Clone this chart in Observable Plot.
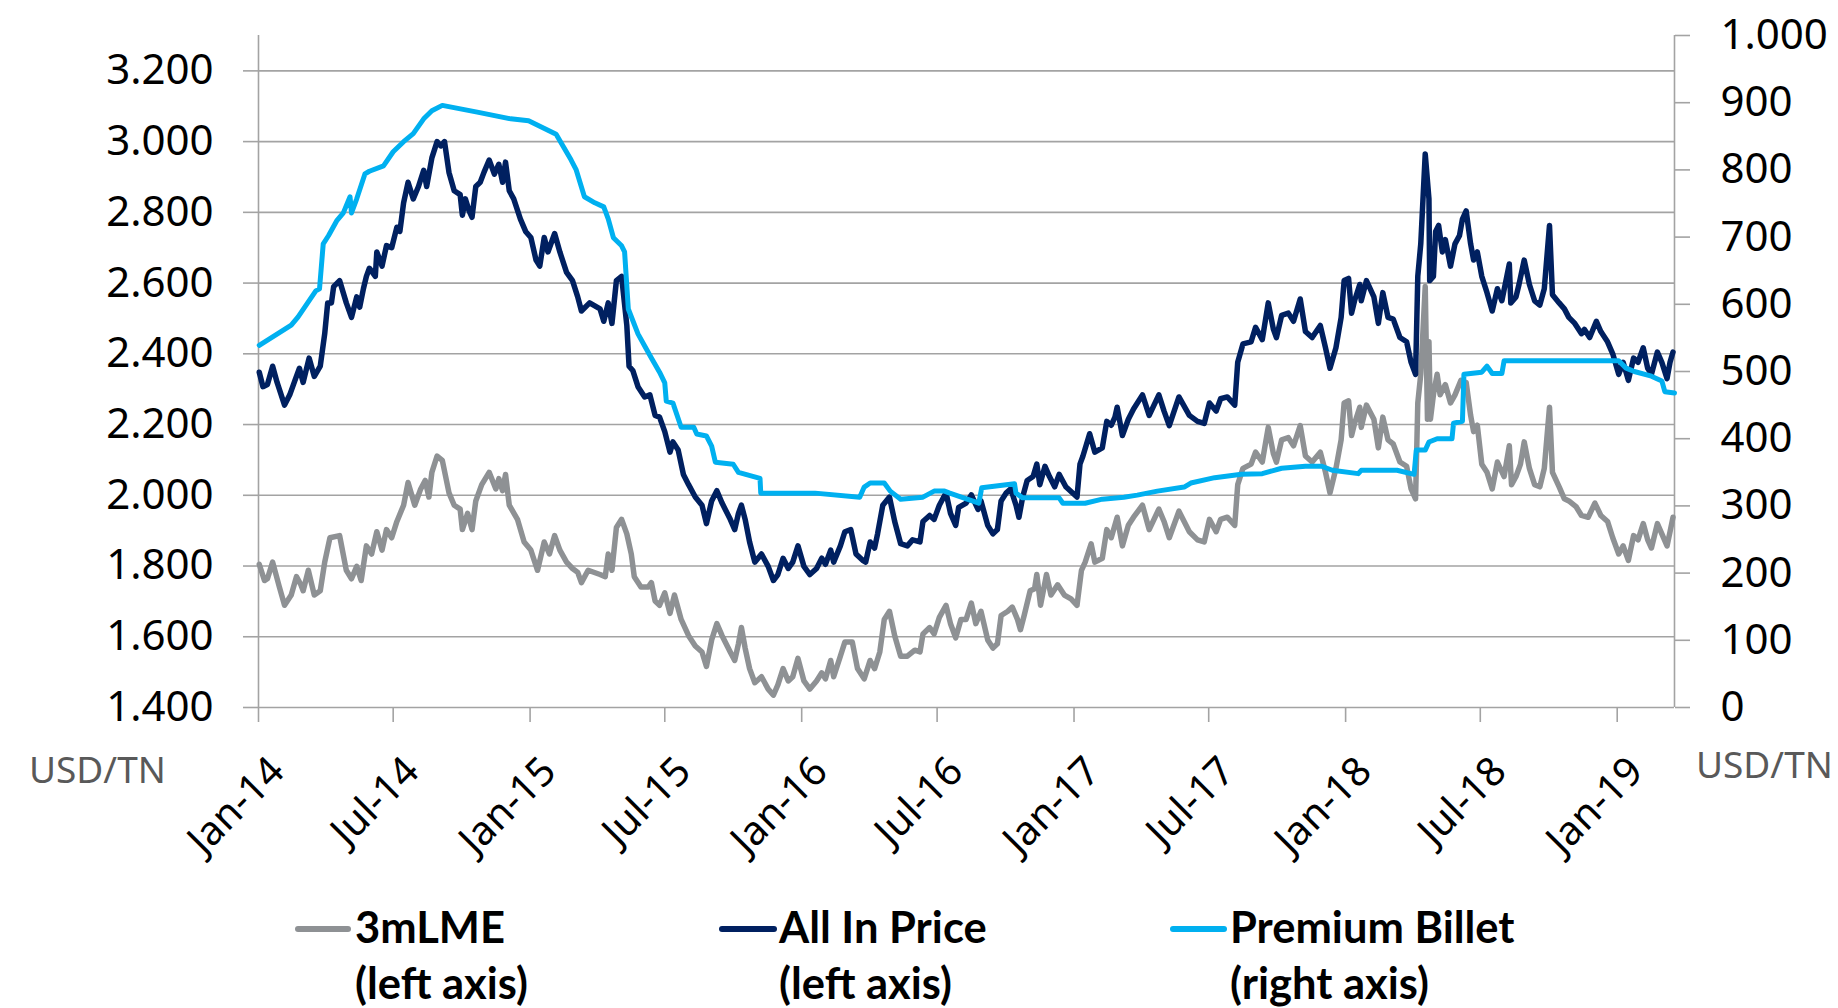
<!DOCTYPE html>
<html><head><meta charset="utf-8">
<script src="https://cdn.jsdelivr.net/npm/d3@7"></script>
<script src="https://cdn.jsdelivr.net/npm/@observablehq/plot@0.6"></script>
<style>
html,body{margin:0;padding:0;background:#fff;}
#wrap{position:relative;width:1838px;height:1008px;overflow:hidden;background:#fff;}
#chart{position:absolute;left:0;top:0;}
.unit{position:absolute;font-family:'Noto Sans',sans-serif;font-size:37px;color:#595959;line-height:37px;white-space:nowrap;}
.leg{position:absolute;font-family:Lato,sans-serif;font-weight:700;font-size:43.5px;line-height:56px;color:#000;white-space:nowrap;}
.sw{position:absolute;height:6px;border-radius:3px;}
</style></head><body><div id="wrap"><div id="chart"></div></div>
<script>
// ---------- data ----------
const seriesNames = ["3mLME", "All In Price", "Premium Billet"];
const seriesAxis = ["(left axis)", "(left axis)", "(right axis)"];
const seriesColors = ["#8e9194", "#002060", "#00b0f0"];

const leftTicks = [1400, 1600, 1800, 2000, 2200, 2400, 2600, 2800, 3000, 3200];
const rightTicks = [0, 100, 200, 300, 400, 500, 600, 700, 800, 900, 1000];
const xTickDates = ["2014-01-01","2014-07-01","2015-01-01","2015-07-01","2016-01-01","2016-07-01","2017-01-01","2017-07-01","2018-01-01","2018-07-01","2019-01-01"];
const xTickLabels = ["Jan-14","Jul-14","Jan-15","Jul-15","Jan-16","Jul-16","Jan-17","Jul-17","Jan-18","Jul-18","Jan-19"];
const unitLabel = "USD/TN";

const lme3m = [
["2014-01-02",1805],["2014-01-09",1759],["2014-01-13",1764],["2014-01-20",1811],["2014-01-29",1741],["2014-02-05",1689],["2014-02-14",1718],["2014-02-21",1770],["2014-02-27",1747],["2014-03-02",1730],["2014-03-09",1788],["2014-03-17",1718],["2014-03-25",1730],["2014-03-31",1811],["2014-04-07",1880],["2014-04-20",1886],["2014-04-29",1788],["2014-05-06",1764],["2014-05-13",1799],["2014-05-19",1759],["2014-05-26",1857],["2014-06-02",1834],["2014-06-09",1897],["2014-06-16",1845],["2014-06-22",1903],["2014-06-29",1880],["2014-07-06",1926],["2014-07-15",1972],["2014-07-21",2036],["2014-07-30",1972],["2014-08-07",2018],["2014-08-13",2042],["2014-08-18",1995],["2014-08-22",2065],["2014-08-29",2111],["2014-09-05",2099],["2014-09-14",2007],["2014-09-21",1972],["2014-09-29",1961],["2014-10-02",1903],["2014-10-09",1949],["2014-10-15",1903],["2014-10-20",1984],["2014-10-28",2030],["2014-11-07",2065],["2014-11-16",2018],["2014-11-20",2047],["2014-11-25",2013],["2014-11-29",2059],["2014-12-04",1972],["2014-12-15",1932],["2014-12-24",1868],
["2015-01-02",1845],["2015-01-11",1788],["2015-01-20",1868],["2015-01-27",1834],["2015-02-03",1886],["2015-02-10",1845],["2015-02-19",1811],["2015-02-27",1793],["2015-03-06",1782],["2015-03-11",1753],["2015-03-20",1788],["2015-04-05",1776],["2015-04-12",1770],["2015-04-16",1834],["2015-04-21",1788],["2015-04-27",1909],["2015-05-04",1932],["2015-05-11",1891],["2015-05-17",1834],["2015-05-21",1770],["2015-05-30",1741],["2015-06-09",1741],["2015-06-13",1753],["2015-06-18",1701],["2015-06-24",1689],["2015-07-01",1724],["2015-07-08",1666],["2015-07-14",1718],["2015-07-23",1649],["2015-08-02",1603],["2015-08-11",1574],["2015-08-20",1557],["2015-08-26",1516],["2015-09-02",1591],["2015-09-09",1637],["2015-09-16",1603],["2015-09-27",1557],["2015-10-03",1533],["2015-10-08",1580],["2015-10-12",1626],["2015-10-17",1568],["2015-10-23",1510],["2015-10-30",1470],["2015-11-08",1487],["2015-11-17",1452],["2015-11-24",1435],["2015-11-30",1464],["2015-12-07",1510],["2015-12-14",1475],["2015-12-20",1487],["2015-12-27",1539],
["2016-01-04",1475],["2016-01-12",1452],["2016-01-21",1475],["2016-01-28",1498],["2016-02-02",1481],["2016-02-09",1533],["2016-02-13",1487],["2016-02-22",1545],["2016-02-28",1585],["2016-03-09",1585],["2016-03-16",1510],["2016-03-25",1481],["2016-04-02",1533],["2016-04-08",1510],["2016-04-15",1557],["2016-04-21",1649],["2016-04-28",1672],["2016-05-05",1603],["2016-05-13",1545],["2016-05-22",1545],["2016-06-01",1562],["2016-06-08",1557],["2016-06-12",1608],["2016-06-21",1626],["2016-06-27",1608],["2016-07-04",1655],["2016-07-13",1689],["2016-07-19",1637],["2016-07-26",1597],["2016-08-02",1649],["2016-08-09",1649],["2016-08-16",1695],["2016-08-22",1637],["2016-08-29",1672],["2016-09-07",1591],["2016-09-14",1568],["2016-09-20",1580],["2016-09-25",1660],["2016-10-04",1672],["2016-10-10",1684],["2016-10-17",1649],["2016-10-21",1620],["2016-10-26",1660],["2016-11-03",1730],["2016-11-09",1736],["2016-11-12",1776],["2016-11-17",1689],["2016-11-25",1776],["2016-12-01",1718],["2016-12-10",1747],["2016-12-19",1718],["2016-12-28",1707],
["2017-01-05",1689],["2017-01-11",1788],["2017-01-16",1811],["2017-01-24",1863],["2017-01-29",1811],["2017-02-08",1822],["2017-02-14",1903],["2017-02-20",1880],["2017-02-28",1938],["2017-03-07",1857],["2017-03-15",1915],["2017-03-22",1938],["2017-04-03",1972],["2017-04-12",1903],["2017-04-25",1961],["2017-05-02",1926],["2017-05-09",1880],["2017-05-22",1955],["2017-06-05",1897],["2017-06-16",1874],["2017-06-25",1868],["2017-07-02",1932],["2017-07-11",1897],["2017-07-17",1932],["2017-07-26",1938],["2017-08-05",1915],["2017-08-09",2030],["2017-08-16",2076],["2017-08-27",2088],["2017-09-02",2122],["2017-09-11",2094],["2017-09-19",2192],["2017-09-26",2117],["2017-09-30",2094],["2017-10-07",2157],["2017-10-16",2163],["2017-10-23",2140],["2017-11-01",2197],["2017-11-08",2111],["2017-11-17",2094],["2017-11-28",2122],["2017-12-05",2065],["2017-12-11",2007],["2017-12-19",2076],["2017-12-26",2157],["2017-12-30",2261],
["2018-01-05",2267],["2018-01-09",2169],["2018-01-13",2203],["2018-01-20",2249],["2018-01-22",2192],["2018-01-29",2255],["2018-02-08",2215],["2018-02-14",2134],["2018-02-20",2221],["2018-02-27",2157],["2018-03-06",2145],["2018-03-15",2094],["2018-03-24",2082],["2018-03-30",2018],["2018-04-05",1990],["2018-04-08",2261],["2018-04-12",2342],["2018-04-18",2590],["2018-04-21",2215],["2018-04-23",2434],["2018-04-25",2215],["2018-04-29",2284],["2018-05-04",2342],["2018-05-08",2284],["2018-05-15",2313],["2018-05-22",2261],["2018-05-28",2284],["2018-06-05",2325],["2018-06-12",2319],["2018-06-18",2226],["2018-06-22",2180],["2018-06-27",2198],["2018-07-03",2088],["2018-07-10",2065],["2018-07-17",2018],["2018-07-24",2094],["2018-08-02",2053],["2018-08-09",2140],["2018-08-12",2030],["2018-08-18",2053],["2018-08-24",2088],["2018-08-29",2151],["2018-09-05",2076],["2018-09-12",2030],["2018-09-19",2024],["2018-09-25",2076],["2018-10-02",2249],["2018-10-06",2065],["2018-10-15",2024],["2018-10-22",1990],["2018-10-28",1984],["2018-11-07",1967],["2018-11-14",1943],["2018-11-23",1938],["2018-12-02",1978],["2018-12-10",1943],["2018-12-19",1926],["2018-12-26",1880],
["2019-01-03",1834],["2019-01-09",1857],["2019-01-16",1816],["2019-01-23",1886],["2019-01-29",1874],["2019-02-05",1920],["2019-02-11",1874],["2019-02-16",1851],["2019-02-24",1920],["2019-03-02",1891],["2019-03-09",1857],["2019-03-13",1897],["2019-03-17",1938]
];

const allInPrice = [
["2014-01-02",2348],["2014-01-07",2307],["2014-01-13",2313],["2014-01-20",2365],["2014-01-26",2319],["2014-02-05",2255],["2014-02-12",2284],["2014-02-19",2325],["2014-02-25",2359],["2014-03-02",2319],["2014-03-10",2388],["2014-03-17",2336],["2014-03-25",2365],["2014-03-31",2457],["2014-04-04",2544],["2014-04-09",2544],["2014-04-12",2590],["2014-04-20",2607],["2014-04-29",2544],["2014-05-06",2503],["2014-05-13",2561],["2014-05-17",2532],["2014-05-22",2584],["2014-05-26",2619],["2014-05-30",2642],["2014-06-07",2619],["2014-06-09",2688],["2014-06-16",2648],["2014-06-22",2706],["2014-06-29",2700],["2014-07-06",2758],["2014-07-10",2746],["2014-07-15",2827],["2014-07-21",2885],["2014-07-28",2838],["2014-08-04",2873],["2014-08-11",2919],["2014-08-15",2873],["2014-08-22",2954],["2014-08-29",3000],["2014-09-03",2988],["2014-09-08",3000],["2014-09-14",2913],["2014-09-21",2861],["2014-09-29",2850],["2014-10-02",2792],["2014-10-06",2838],["2014-10-11",2804],["2014-10-15",2786],["2014-10-20",2873],["2014-10-26",2885],["2014-10-31",2913],["2014-11-07",2948],["2014-11-14",2908],["2014-11-20",2936],["2014-11-25",2885],["2014-11-29",2942],["2014-12-04",2861],["2014-12-10",2838],["2014-12-19",2781],["2014-12-26",2746],
["2015-01-02",2729],["2015-01-09",2665],["2015-01-14",2648],["2015-01-20",2729],["2015-01-25",2688],["2015-02-03",2740],["2015-02-10",2688],["2015-02-19",2630],["2015-02-27",2607],["2015-03-06",2561],["2015-03-11",2521],["2015-03-22",2544],["2015-04-05",2527],["2015-04-10",2492],["2015-04-16",2544],["2015-04-21",2486],["2015-04-27",2607],["2015-05-04",2619],["2015-05-11",2480],["2015-05-14",2365],["2015-05-19",2353],["2015-05-26",2307],["2015-06-04",2278],["2015-06-11",2284],["2015-06-18",2226],["2015-06-24",2221],["2015-07-01",2180],["2015-07-08",2122],["2015-07-12",2151],["2015-07-19",2128],["2015-07-26",2059],["2015-08-02",2030],["2015-08-11",1995],["2015-08-20",1972],["2015-08-26",1920],["2015-09-02",1984],["2015-09-09",2013],["2015-09-16",1978],["2015-09-27",1932],["2015-10-03",1903],["2015-10-08",1949],["2015-10-12",1972],["2015-10-17",1932],["2015-10-23",1868],["2015-10-30",1811],["2015-11-08",1834],["2015-11-17",1799],["2015-11-24",1759],["2015-11-30",1776],["2015-12-07",1822],["2015-12-14",1793],["2015-12-20",1811],["2015-12-27",1857],
["2016-01-04",1799],["2016-01-12",1776],["2016-01-21",1793],["2016-01-28",1822],["2016-02-02",1805],["2016-02-09",1845],["2016-02-13",1811],["2016-02-22",1857],["2016-02-28",1897],["2016-03-07",1903],["2016-03-14",1834],["2016-03-23",1816],["2016-03-27",1811],["2016-04-02",1868],["2016-04-08",1851],["2016-04-12",1891],["2016-04-19",1972],["2016-04-28",1995],["2016-05-05",1926],["2016-05-13",1863],["2016-05-22",1857],["2016-05-29",1874],["2016-06-08",1868],["2016-06-12",1926],["2016-06-21",1943],["2016-06-27",1932],["2016-07-04",1972],["2016-07-13",2007],["2016-07-19",1949],["2016-07-26",1915],["2016-07-30",1966],["2016-08-09",1978],["2016-08-16",2001],["2016-08-25",1960],["2016-08-29",1984],["2016-09-07",1915],["2016-09-14",1891],["2016-09-20",1903],["2016-09-25",1984],["2016-10-02",2007],["2016-10-08",2018],["2016-10-15",1972],["2016-10-19",1938],["2016-10-24",1995],["2016-10-30",2042],["2016-11-07",2053],["2016-11-12",2088],["2016-11-16",2030],["2016-11-23",2082],["2016-11-29",2053],["2016-12-06",2024],["2016-12-12",2059],["2016-12-21",2024],
["2017-01-05",1995],["2017-01-09",2088],["2017-01-13",2111],["2017-01-22",2174],["2017-01-29",2122],["2017-02-08",2134],["2017-02-14",2209],["2017-02-20",2198],["2017-02-25",2221],["2017-02-28",2249],["2017-03-07",2169],["2017-03-15",2215],["2017-03-22",2244],["2017-04-03",2284],["2017-04-12",2226],["2017-04-25",2284],["2017-05-02",2238],["2017-05-09",2197],["2017-05-22",2278],["2017-06-05",2226],["2017-06-16",2209],["2017-06-25",2203],["2017-07-02",2261],["2017-07-11",2238],["2017-07-17",2273],["2017-07-26",2278],["2017-08-05",2255],["2017-08-09",2376],["2017-08-16",2428],["2017-08-27",2434],["2017-09-02",2475],["2017-09-11",2440],["2017-09-19",2544],["2017-09-26",2469],["2017-09-30",2446],["2017-10-07",2509],["2017-10-16",2515],["2017-10-23",2492],["2017-11-01",2555],["2017-11-08",2463],["2017-11-17",2446],["2017-11-28",2480],["2017-12-05",2417],["2017-12-11",2359],["2017-12-19",2417],["2017-12-26",2503],["2017-12-30",2607],
["2018-01-05",2613],["2018-01-09",2515],["2018-01-13",2550],["2018-01-20",2596],["2018-01-22",2550],["2018-01-29",2607],["2018-02-08",2561],["2018-02-14",2486],["2018-02-20",2573],["2018-02-27",2503],["2018-03-06",2498],["2018-03-15",2446],["2018-03-24",2434],["2018-03-30",2376],["2018-04-05",2342],["2018-04-08",2619],["2018-04-12",2711],["2018-04-18",2965],["2018-04-23",2838],["2018-04-24",2607],["2018-04-29",2619],["2018-05-02",2746],["2018-05-06",2763],["2018-05-11",2688],["2018-05-15",2723],["2018-05-22",2648],["2018-05-28",2711],["2018-06-03",2734],["2018-06-07",2781],["2018-06-12",2804],["2018-06-18",2711],["2018-06-22",2665],["2018-06-27",2688],["2018-07-03",2619],["2018-07-10",2573],["2018-07-17",2521],["2018-07-24",2584],["2018-07-30",2550],["2018-08-09",2654],["2018-08-11",2544],["2018-08-18",2561],["2018-08-22",2596],["2018-08-29",2665],["2018-09-05",2596],["2018-09-12",2550],["2018-09-19",2538],["2018-09-25",2584],["2018-10-02",2763],["2018-10-06",2567],["2018-10-15",2544],["2018-10-22",2527],["2018-10-28",2503],["2018-11-05",2486],["2018-11-14",2457],["2018-11-18",2469],["2018-11-25",2446],["2018-12-04",2492],["2018-12-10",2463],["2018-12-19",2434],["2018-12-26",2400],
["2019-01-03",2342],["2019-01-09",2376],["2019-01-16",2325],["2019-01-23",2388],["2019-01-29",2376],["2019-02-05",2417],["2019-02-11",2359],["2019-02-16",2342],["2019-02-24",2405],["2019-03-02",2376],["2019-03-09",2330],["2019-03-13",2376],["2019-03-17",2405]
];

const premiumBillet = [
["2014-01-02",539],["2014-02-14",569],["2014-02-23",581],["2014-03-19",620],["2014-03-24",623],["2014-03-29",690],["2014-04-05",702],["2014-04-16",724],["2014-04-25",736],["2014-05-04",760],["2014-05-06",736],["2014-05-13",757],["2014-05-24",794],["2014-05-30",798],["2014-06-18",806],["2014-07-01",827],["2014-07-15",842],["2014-07-28",854],["2014-08-11",876],["2014-08-22",888],["2014-09-05",896],["2014-10-22",886],["2014-12-06",876],["2014-12-30",873],
["2015-02-05",853],["2015-02-14",836],["2015-02-25",815],["2015-03-04",800],["2015-03-15",760],["2015-03-29",751],["2015-04-10",745],["2015-04-16",727],["2015-04-23",699],["2015-05-04",687],["2015-05-08",678],["2015-05-13",593],["2015-05-26",556],["2015-06-04",538],["2015-06-13",520],["2015-06-24",499],["2015-07-01",483],["2015-07-03",456],["2015-07-12",453],["2015-07-23",417],["2015-08-09",417],["2015-08-13",407],["2015-08-26",404],["2015-09-02",389],["2015-09-07",365],["2015-10-01",362],["2015-10-08",350],["2015-11-06",341],["2015-11-07",319],
["2016-01-19",319],["2016-03-19",313],["2016-03-25",328],["2016-04-02",334],["2016-04-21",334],["2016-04-29",322],["2016-05-13",310],["2016-06-12",313],["2016-06-27",322],["2016-07-11",322],["2016-07-18",319],["2016-08-26",304],["2016-08-30",327],["2016-10-13",333],["2016-10-15",319],["2016-10-24",312],["2016-12-12",312],["2016-12-17",304],
["2017-01-16",304],["2017-02-08",310],["2017-03-09",313],["2017-03-27",316],["2017-04-23",322],["2017-05-29",328],["2017-06-07",334],["2017-07-09",342],["2017-08-14",347],["2017-09-11",348],["2017-10-07",356],["2017-11-08",359],["2017-11-30",359],["2017-12-14",353],
["2018-01-18",348],["2018-01-22",353],["2018-03-11",353],["2018-04-03",347],["2018-04-06",383],["2018-04-18",383],["2018-04-23",395],["2018-05-04",400],["2018-05-24",400],["2018-05-26",423],["2018-06-07",426],["2018-06-09",496],["2018-07-03",499],["2018-07-10",508],["2018-07-17",497],["2018-07-30",497],["2018-08-02",516],
["2019-01-03",516],["2019-01-13",505],["2019-01-24",500],["2019-02-16",493],["2019-03-02",486],["2019-03-06",470],["2019-03-19",468]
];

// ---------- chart ----------
const xDomain = [new Date("2014-01-01"), new Date("2019-03-19")];
const leftDomain = [1400, 3300];
const rightDomain = [0, 1000];
// map right-axis values onto the left scale
const k = (leftDomain[1] - leftDomain[0]) / (rightDomain[1] - rightDomain[0]);
const r2l = r => leftDomain[0] + (r - rightDomain[0]) * k;
const l2r = v => rightDomain[0] + (v - leftDomain[0]) / k;
const fmt = v => d3.format(",")(Math.round(v)).replace(/,/g, ".");

const gridColor = "#a3a3a3";
const parse = s => new Date(s);

const chart = Plot.plot({
  width: 1838,
  height: 880,
  marginLeft: 258,
  marginRight: 164,
  marginTop: 35,
  marginBottom: 173,
  x: {type: "utc", domain: xDomain, axis: null},
  y: {domain: leftDomain, axis: null},
  style: {fontFamily: "'Noto Sans', sans-serif", background: "white", overflow: "visible"},
  marks: [
    Plot.gridY(leftTicks, {stroke: gridColor, strokeOpacity: 1, strokeWidth: 1.6}),
    Plot.ruleX(xDomain, {stroke: gridColor, strokeWidth: 1.6}),
    Plot.axisX(xTickDates.map(parse), {tickSize: 15, tickFormat: () => "", stroke: gridColor, strokeWidth: 1.6, label: null}),
    Plot.text(xTickDates.map(parse), {
      x: d => d, frameAnchor: "bottom",
      text: (d, i) => xTickLabels[i],
      rotate: -45, textAnchor: "end", lineAnchor: "middle",
      dx: 19, dy: 57, fontSize: 40, fill: "#000"
    }),
    Plot.axisY(leftTicks, {anchor: "left", tickSize: 15, tickPadding: 30, tickFormat: fmt, fontSize: 42, color: "#000", stroke: gridColor, strokeWidth: 1.6, label: null}),
    Plot.axisY(rightTicks.map(r2l), {anchor: "right", tickSize: 15, tickPadding: 31, tickFormat: v => fmt(l2r(v)), fontSize: 42, color: "#000", stroke: gridColor, strokeWidth: 1.6, label: null}),
    Plot.line(lme3m, {x: d => parse(d[0]), y: d => d[1], stroke: seriesColors[0], strokeWidth: 5.5}),
    Plot.line(allInPrice, {x: d => parse(d[0]), y: d => d[1], stroke: seriesColors[1], strokeWidth: 5.5}),
    Plot.line(premiumBillet, {x: d => parse(d[0]), y: d => r2l(d[1]), stroke: seriesColors[2], strokeWidth: 5})
  ]
});
document.getElementById("chart").appendChild(chart);

// unit labels
const wrap = document.getElementById("wrap");
function addDiv(cls, html, left, top, extra) {
  const el = document.createElement("div");
  el.className = cls;
  el.innerHTML = html;
  el.style.left = left + "px";
  el.style.top = top + "px";
  if (extra) Object.assign(el.style, extra);
  wrap.appendChild(el);
  return el;
}
addDiv("unit", unitLabel, 29, 750);
addDiv("unit", unitLabel, 1696, 745);

// legend
const legSwatchX = [295, 719, 1170];
const legSwatchW = [56, 58, 57];
const legTextX = [355, 779, 1230];
seriesNames.forEach((name, i) => {
  addDiv("sw", "", legSwatchX[i], 926, {width: legSwatchW[i] + "px", background: seriesColors[i]});
  addDiv("leg", name + "<br>" + seriesAxis[i], legTextX[i], 898);
});
</script></body></html>
